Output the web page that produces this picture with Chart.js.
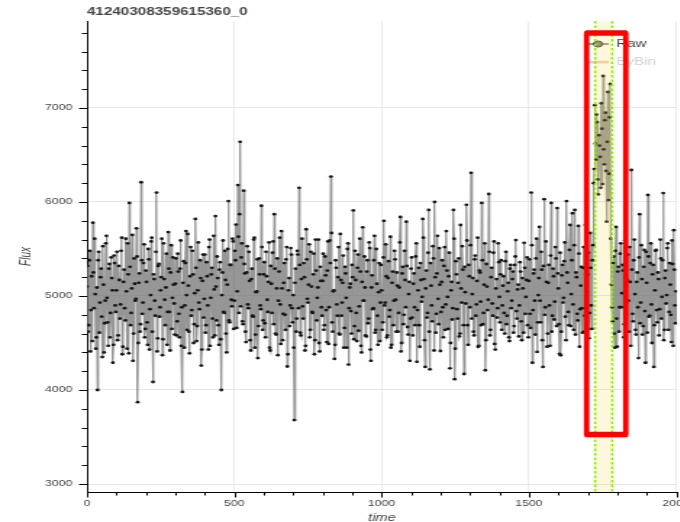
<!DOCTYPE html>
<html>
<head>
<meta charset="utf-8">
<script src="https://cdn.jsdelivr.net/npm/chart.js@4.4.1/dist/chart.umd.min.js"></script>
<style>
  html, body { margin: 0; padding: 0; background: #fff; overflow: hidden; }
  #wrap { width: 700px; height: 522px; }
</style>
</head>
<body>
<div id="wrap"><canvas id="cv"></canvas></div>
<script>
// --- data ---
const chartTitle = '41240308359615360_0';
const seriesNames = ['Raw', 'ByBin'];
const tStep = 4;    // each list samples every 4 time units
// samples at t = 0, 4, 8, ...
const fluxEven = [
  5100, 4620, 5380, 4410, 5210, 5780, 4870, 5020, 4560, 4000, 5470, 4930, 5290, 4350, 5120, 4710, 5560, 4980, 4470, 5340, 4820, 5190, 4290, 5430, 4900,
  5060, 4530, 5320, 4760, 5480, 4380, 5150, 4870, 5610, 4440, 5230, 5990, 4690, 5080, 4310, 5400, 4950, 5720, 3870, 5140, 4620, 6210, 4810, 5350, 4560,
  5270, 4720, 5500, 4430, 5010, 5620, 4085, 5180, 4790, 6100, 4550, 5340, 4880, 5200, 4370, 5560, 4960, 5090, 4480, 5680, 4830, 5250, 4650, 5410, 4920,
  5130, 4580, 5450, 4810, 5290, 4470, 3980, 5370, 4900, 5690, 4640, 5110, 4390, 5520, 4850, 5230, 4700, 5820, 4520, 5060, 4930, 5380, 4260, 5160, 4770,
  5440, 4690, 5210, 4430, 5600, 4980, 5300, 4560, 5070, 5850, 4740, 5190, 4480, 5360, 4000, 5250, 4830, 5480, 4600, 5120, 6010, 4720, 5330, 4890, 5580,
  4950, 5380, 4660, 6180, 4820, 6640, 5410, 4730, 6120, 5240, 4510, 5530, 4870, 5160, 4420, 5290, 4780, 5620, 4590, 5050, 4340, 5400, 4900, 5960, 4640,
  5230, 4710, 5470, 4960, 5150, 4450, 5320, 4820, 5580, 5870, 4600, 5080, 4370, 5260, 4910, 5690, 4530, 5140, 4800, 5390, 4250, 5060, 4680, 5510, 4870,
  5010, 3680, 5290, 4760, 5440, 6150, 4610, 5180, 4890, 5350, 4420, 5710, 4970, 5120, 4560, 5470, 4830, 5230, 4380, 5600, 4740, 5090, 4500, 5310, 4880,
  5160, 4640, 5420, 4850, 5270, 4490, 5590, 6270, 4720, 5050, 4330, 5380, 4910, 5200, 4600, 5660, 4790, 5140, 4450, 5310, 4980, 5500, 4270, 5090, 4840,
  5330, 5910, 4680, 5170, 4520, 5440, 4890, 5260, 4400, 5730, 4950, 5090, 4570, 5380, 4760, 5510, 4310, 5220, 4870, 5640, 4640, 5130, 4480, 5350, 4930,
  5060, 4720, 5800, 4930, 5210, 4580, 5370, 4850, 4450, 5140, 4690, 5480, 4960, 5250, 4620, 5090, 5840, 4500, 5310, 4800, 5170, 5790, 4670, 5020, 4310,
  5290, 4770, 5130, 4880, 5420, 4300, 5060, 4690, 5350, 4940, 5820, 5180, 4245, 5270, 4820, 5915, 4220, 5110, 4730, 5400, 6000, 4610, 5240, 4970, 5510,
  4415, 5150, 4880, 5320, 4640, 5690, 4990, 5210, 4230, 5060, 4750, 5915, 4115, 5370, 4860, 5140, 4570, 5755, 4930, 5280, 4170, 5040, 5970, 4690, 5330,
  4880, 6310, 5020, 4620, 5390, 4790, 5160, 4460, 5270, 4940, 5990, 4700, 5120, 4210, 5340, 4850, 6085, 4580, 5200, 4920, 5460, 4490, 5080, 4770, 5560,
  4990, 5230, 4640, 5110, 4820, 5370, 4700, 5050, 4560, 5290, 4870, 5180, 4610, 5330, 5595, 4760, 5120, 4900, 5260, 4530, 5080, 5565, 4810, 5170, 4690,
  5160, 4810, 6100, 4290, 5240, 4950, 5400, 4405, 5010, 5735, 4720, 5280, 4245, 6030, 4880, 5150, 4600, 5330, 4470, 5990, 4790, 5210, 4940, 5400, 5935,
  5080, 4385, 4370, 5220, 4930, 5370, 4780, 6010, 5140, 4690, 5755, 5020, 5880, 4640, 5915, 5250, 4810, 5745, 4460, 5110, 4870, 5300, 4620, 5755, 5040,
  5230, 4550, 5670, 4900, 5380, 6200, 7030, 6450, 6850, 6080, 6600, 6150, 6780, 7340, 6400, 6950, 5790, 7170, 6300, 7255, 5120, 4730, 5420, 4450, 5735,
  4460, 5310, 4880, 5560, 5030, 5270, 4700, 6170, 4950, 5440, 4620, 5150, 6340, 4810, 5380, 5020, 4590, 5250, 4340, 5870, 4930, 5180, 4680, 5490, 4290,
  5140, 6075, 4780, 5350, 4910, 5230, 4245, 5060, 5490, 4720, 5180, 4860, 5400, 4990, 6095, 4640, 5270, 5010, 5560, 4830, 5120, 4510, 5340, 5700, 4900,
  5050
];
// samples at t = 2, 6, 10, ...
const fluxOdd = [
  5320, 4690, 5480, 4850, 4520, 5250, 5610, 4440, 5090, 5380, 4610, 5200, 4780, 5530, 4400, 4950, 5640, 4720, 5290, 4560, 5410, 5060, 4480, 5350, 4830,
  5470, 4580, 5170, 4910, 5620, 4460, 5280, 4740, 5050, 5560, 4390, 5310, 4820, 5650, 4600, 5130, 4970, 5420, 4500, 5240, 4700, 5380, 4930, 5550, 4650,
  5150, 4480, 5390, 4860, 5580, 4620, 5230, 4950, 5470, 4410, 5320, 4780, 5060, 5610, 4540, 5180, 4690, 5450, 4830, 5290, 4420, 5540, 4980, 5120, 4590,
  5400, 4730, 5260, 4560, 5590, 4880, 5140, 4450, 5350, 5010, 5660, 4620, 5210, 4790, 5480, 4500, 5030, 5300, 4680, 5570, 4860, 5190, 4430, 5440, 4970,
  4610, 5360, 4900, 5520, 4470, 5230, 4760, 5640, 4580, 5100, 5420, 4690, 5280, 4540, 5010, 5590, 4820, 5170, 4400, 5500, 4740, 5330, 4960, 5610, 4650,
  5480, 5760, 5050, 5630, 5870, 4890, 5560, 4700, 5340, 4620, 5250, 4910, 5470, 4530, 5180, 4790, 5600, 4450, 5040, 5390, 4680, 5230, 4860, 5520, 4740,
  5360, 4560, 5210, 4830, 5570, 4420, 5130, 5460, 4700, 5290, 4590, 5400, 4950, 5620, 4490, 5080, 4810, 5350, 4640, 5520, 4380, 5190, 4900, 5440, 4720,
  4450, 5140, 4620, 5480, 4870, 5330, 4580, 5610, 4760, 5200, 4470, 5390, 4930, 5550, 4640, 5100, 4820, 5450, 4530, 5270, 4980, 5600, 4410, 5160, 4790,
  5450, 4690, 5220, 4510, 5580, 4880, 5350, 5670, 4620, 5060, 4480, 5300, 4790, 5520, 4590, 5170, 4930, 5430, 4660, 5240, 4450, 5560, 4870, 5130, 4600,
  5200, 4540, 5480, 4820, 5300, 4630, 5610, 4470, 5150, 4950, 5420, 4580, 5260, 4710, 5570, 4430, 5090, 4860, 5380, 4610, 5500, 4790, 5040, 4520, 5330,
  4640, 5410, 4900, 5550, 4560, 5190, 4780, 5630, 4480, 5260, 4950, 5390, 4620, 5110, 4820, 5570, 4410, 5240, 4700, 5480, 4880, 5320, 4590, 5150, 4760,
  5410, 4580, 5240, 4690, 5560, 4850, 5300, 4460, 5170, 4990, 5620, 4530, 5080, 4770, 5460, 4620, 5350, 4900, 5530, 4420, 5200, 4810, 5640, 4700, 5120,
  4830, 5380, 4560, 5520, 4910, 5270, 4650, 5460, 4500, 5150, 4870, 5610, 4440, 5230, 4760, 5400, 4600, 5080, 5530, 4690, 5310, 4920, 5590, 4480, 5210,
  5540, 4760, 5190, 4580, 5430, 4910, 5620, 4470, 5250, 4690, 5380, 4820, 5560, 4530, 5100, 4960, 5470, 4640, 5300, 4790, 5580, 4430, 5180, 4870, 5360,
  4720, 5380, 4900, 5210, 4600, 5470, 4790, 5140, 4520, 5330, 4950, 5260, 4680, 5420, 4840, 5070, 4570, 5360, 4730, 5190, 4610, 5300, 4990, 5410, 4560,
  5390, 4660, 5540, 4850, 5280, 4590, 5610, 4720, 5190, 4950, 5470, 4530, 5320, 4800, 5580, 4460, 5140, 4900, 5430, 4620, 5290, 4750, 5520, 4680, 5240,
  4700, 5460, 4620, 5330, 4980, 5570, 4530, 5250, 4830, 5490, 4680, 5380, 4910, 5540, 4590, 5200, 4740, 5450, 4860, 5310, 4610, 5520, 4790, 5230, 4650,
  5460, 4820, 5300, 4650, 5540, 6350, 6620, 6930, 6240, 6710, 6480, 7050, 6190, 6560, 6870, 6330, 6640, 6020, 6900, 5610, 4880, 5350, 4600, 5480, 4760,
  5260, 4620, 5450, 4880, 5330, 4560, 5590, 4790, 5170, 4950, 5520, 4470, 5280, 4730, 5600, 4640, 5150, 4880, 5410, 4710, 5540, 4590, 5310, 4840, 5470,
  4610, 5420, 4790, 5560, 4500, 5330, 4690, 5480, 4850, 5250, 4580, 5600, 4760, 5380, 4530, 5190, 4920, 5510, 4640, 5350, 4800, 5590, 4470, 5280, 4710
];
const windowStart = 1725, windowEnd = 1783;   // highlighted window
const boxX = [1696, 1829];                     // red marker box, data units
const boxY = [3527, 7798];
const xRange = [0, 2003];
const yRange = [2915, 7925];
const xMajor = [0, 500, 1000, 1500, 2000];
const xMinor = [0, 100, 200, 300, 400, 500, 600, 700, 800, 900, 1000, 1100, 1200, 1300, 1400, 1500, 1600, 1700, 1800, 1900, 2000];
const yMajor = [3000, 4000, 5000, 6000, 7000];
const yMinor = [3000, 3200, 3400, 3600, 3800, 4000, 4200, 4400, 4600, 4800, 5000, 5200, 5400, 5600, 5800, 6000, 6200, 6400, 6600, 6800, 7000, 7200, 7400, 7600, 7800];

// merge the two sample lists into one time-ordered series
const rawPoints = [];
fluxEven.forEach((v, i) => {
  rawPoints.push({ x: i * tStep, y: v });
  if (i < fluxOdd.length) rawPoints.push({ x: i * tStep + tStep / 2, y: fluxOdd[i] });
});

// the reference picture is stretched sideways, so draw narrow and stretch with css
const S = 1.45;
const CW = Math.round(700 / S), CH = 522;
const cv = document.getElementById('cv');
cv.width = CW; cv.height = CH;
cv.style.width = '700px'; cv.style.height = CH + 'px';

const FONT = 'Liberation Sans';
const LEFT = 87 / S, RIGHT = 680 / S;

// minor/major tick marks (bokeh style, outside the axis) + title
const axisTicks = {
  id: 'axisTicks',
  afterDraw(chart) {
    const { ctx, chartArea: a, scales: { x, y } } = chart;
    ctx.save();
    ctx.strokeStyle = '#000';
    ctx.lineWidth = 1;
    ctx.beginPath();
    xMinor.forEach(v => {
      const p = Math.round(x.getPixelForValue(v)) + 0.5;
      const len = xMajor.includes(v) ? 5.5 : 3.5;
      ctx.moveTo(p, a.bottom); ctx.lineTo(p, a.bottom + len);
    });
    yMinor.forEach(v => {
      const p = Math.round(y.getPixelForValue(v)) + 0.5;
      const len = yMajor.includes(v) ? 5.5 : 3.5;
      ctx.moveTo(a.left, p); ctx.lineTo(a.left - len, p);
    });
    ctx.stroke();
    ctx.fillStyle = '#444';
    ctx.font = 'bold 10.5px "' + FONT + '"';
    ctx.textBaseline = 'middle';
    ctx.fillText(chartTitle, a.left, 12.5);
    ctx.restore();
  }
};

// legend, highlighted window and the red box
const overlays = {
  id: 'overlays',
  afterDatasetsDraw(chart) {
    const { ctx, chartArea: a, scales: { x, y } } = chart;
    ctx.save();

    // legend
    const lx0 = a.right - 62, lx1 = a.right - 47, tx = a.right - 42;
    const ly = [a.top + 23, a.top + 41];
    ctx.lineWidth = 2;
    ctx.strokeStyle = 'rgba(128,128,128,0.8)';
    ctx.beginPath(); ctx.moveTo(lx0, ly[0]); ctx.lineTo(lx1, ly[0]); ctx.stroke();
    ctx.beginPath(); ctx.arc((lx0 + lx1) / 2, ly[0], 3, 0, Math.PI * 2);
    ctx.fillStyle = '#8a8a7a'; ctx.fill();
    ctx.lineWidth = 1; ctx.strokeStyle = '#333'; ctx.stroke();
    ctx.lineWidth = 2.5;
    ctx.strokeStyle = 'rgba(244,150,120,0.55)';
    ctx.beginPath(); ctx.moveTo(lx0, ly[1]); ctx.lineTo(lx1, ly[1]); ctx.stroke();
    ctx.font = '10.5px "' + FONT + '"';
    ctx.textBaseline = 'middle';
    ctx.fillStyle = '#444';
    ctx.fillText(seriesNames[0], tx, ly[0]);
    ctx.fillStyle = '#d0d0d0';
    ctx.fillText(seriesNames[1], tx, ly[1]);

    // window band
    const w0 = x.getPixelForValue(windowStart), w1 = x.getPixelForValue(windowEnd);
    ctx.fillStyle = 'rgba(245,220,80,0.2)';
    ctx.fillRect(w0, a.top, w1 - w0, a.bottom - a.top);
    ctx.strokeStyle = 'rgb(140,240,0)';
    ctx.lineWidth = 1.6;
    ctx.setLineDash([2.5, 2]);
    [w0, w1].forEach(p => {
      ctx.beginPath(); ctx.moveTo(p, a.top); ctx.lineTo(p, a.bottom); ctx.stroke();
    });
    ctx.setLineDash([]);

    // red box, drawn unstretched
    ctx.scale(1 / S, 1);
    const bx0 = x.getPixelForValue(boxX[0]) * S, bx1 = x.getPixelForValue(boxX[1]) * S;
    const by0 = y.getPixelForValue(boxY[1]), by1 = y.getPixelForValue(boxY[0]);
    ctx.strokeStyle = '#ff0000';
    ctx.lineWidth = 5.5;
    ctx.lineJoin = 'round';
    ctx.strokeRect(bx0, by0, bx1 - bx0, by1 - by0);
    ctx.restore();
  }
};

new Chart(cv, {
  type: 'line',
  data: {
    datasets: [
      {
        label: seriesNames[0],
        data: rawPoints,
        borderColor: 'rgba(110,110,110,0.72)',
        borderWidth: 1.3,
        pointRadius: 1.4,
        pointBackgroundColor: '#151515',
        pointBorderWidth: 0,
        tension: 0
      },
      {
        label: seriesNames[1],
        data: [],
        hidden: true,
        borderColor: '#f4a582'
      }
    ]
  },
  options: {
    responsive: false,
    animation: false,
    devicePixelRatio: 1,
    layout: { padding: { top: 21, right: CW - RIGHT, left: 0, bottom: 0 } },
    plugins: { legend: { display: false }, title: { display: false }, tooltip: { enabled: false } },
    scales: {
      x: {
        type: 'linear',
        min: xRange[0], max: xRange[1],
        afterBuildTicks: s => { s.ticks = xMinor.map(v => ({ value: v })); },
        afterFit: s => { s.height = 30; },
        border: { color: '#000', width: 1 },
        grid: {
          drawTicks: false,
          lineWidth: 0.8,
          color: c => (c.tick && xMajor.includes(c.tick.value)) ? '#e6e6e6' : 'rgba(0,0,0,0)'
        },
        ticks: {
          autoSkip: false, maxRotation: 0, padding: 7, color: '#444',
          font: { family: FONT, size: 8.5 },
          callback: v => xMajor.includes(v) ? String(v) : ''
        },
        title: {
          display: true, text: 'time', color: '#444',
          font: { family: FONT, size: 10, style: 'italic' },
          padding: { top: 0, bottom: -2 }
        }
      },
      y: {
        type: 'linear',
        min: yRange[0], max: yRange[1],
        afterBuildTicks: s => { s.ticks = yMinor.map(v => ({ value: v })); },
        afterFit: s => { s.width = LEFT; },
        border: { color: '#000', width: 1 },
        grid: {
          drawTicks: false,
          color: c => (c.tick && yMajor.includes(c.tick.value)) ? '#e6e6e6' : 'rgba(0,0,0,0)'
        },
        ticks: {
          autoSkip: false, padding: 10, color: '#444',
          font: { family: FONT, size: 8.5 },
          callback: v => yMajor.includes(v) ? String(v) : ''
        },
        title: {
          display: true, text: 'Flux', color: '#444',
          font: { family: FONT, size: 10, style: 'italic' },
          padding: { top: 12.6, bottom: 0 }
        }
      }
    }
  },
  plugins: [overlays, axisTicks]
});
</script>
</body>
</html>
